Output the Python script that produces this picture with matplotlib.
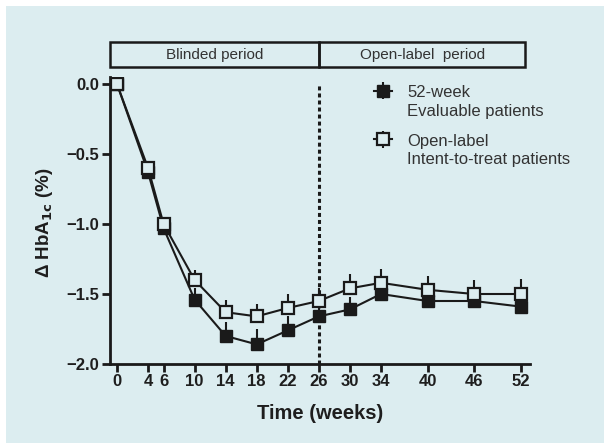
import matplotlib.pyplot as plt
from matplotlib.patches import Rectangle

plt.rcParams['font.family'] = ['Liberation Sans', 'DejaVu Sans']

weeks = [0, 4, 6, 10, 14, 18, 22, 26, 30, 34, 40, 46, 52]
evaluable = [0.0, -0.63, -1.03, -1.54, -1.80, -1.86, -1.76, -1.66, -1.61, -1.50, -1.55, -1.55, -1.59]
evaluable_err = [0.0, 0.06, 0.06, 0.08, 0.10, 0.11, 0.10, 0.09, 0.09, 0.09, 0.09, 0.09, 0.09]
itt = [0.0, -0.60, -1.00, -1.40, -1.63, -1.66, -1.60, -1.55, -1.46, -1.42, -1.47, -1.50, -1.50]
itt_err = [0.0, 0.05, 0.05, 0.07, 0.09, 0.09, 0.10, 0.09, 0.10, 0.10, 0.10, 0.10, 0.11]
yticks = [0.0, -0.5, -1.0, -1.5, -2.0]
ytick_labels = ['0.0', '\u22120.5', '\u22121.0', '\u22121.5', '\u22122.0']
periods = ['Blinded period', 'Open-label  period']

bg = '#dcedf0'
ink = '#1a1a1a'
fig = plt.figure(figsize=(6.04, 4.43), dpi=100, facecolor='white')
fig.patches.append(Rectangle((6 / 604, 0), 1, 1 - 6 / 443, transform=fig.transFigure,
                             facecolor=bg, edgecolor='none', zorder=-10))
ax = fig.add_axes([110 / 604, 79 / 443, 420 / 604, 287 / 443])
ax.set_facecolor('none')

ax.errorbar(weeks, itt, yerr=[[0] * len(itt_err), itt_err], fmt='-s', color=ink,
            mfc=bg, mec=ink, mew=1.6, ms=9, lw=1.5, elinewidth=1.5, capsize=0,
            label='Open-label\nIntent-to-treat patients', zorder=3)
ax.errorbar(weeks, evaluable, yerr=[[0] * len(evaluable_err), evaluable_err], fmt='-s',
            color=ink, mfc=ink, mec=ink, ms=9, lw=1.5, elinewidth=1.5,
            capsize=0, label='52-week\nEvaluable patients', zorder=2)

ax.plot([26, 26], [-2.0, 0.0], ls=(0, (1.3, 1.0)), color=ink, lw=2.2, zorder=1)

ax.set_xlim(-0.9, 53.2)
ax.set_ylim(-2.0, 0.05)
ax.set_xticks(weeks)
ax.set_yticks(yticks)
ax.set_yticklabels(ytick_labels)
for lab in ax.get_xticklabels() + ax.get_yticklabels():
    lab.set_fontweight('bold')
    lab.set_fontsize(12)
ax.tick_params(width=2, length=6, pad=1.5, color=ink, labelcolor='#1e1e1e')
for s in ['top', 'right']:
    ax.spines[s].set_visible(False)
for s in ['left', 'bottom']:
    ax.spines[s].set_linewidth(2)
    ax.spines[s].set_color(ink)

ax.set_xlabel('Time (weeks)', fontsize=14.5, fontweight='bold', color='#1e1e1e', va='top')
ax.xaxis.set_label_coords(0.5, -0.138)
ax.set_ylabel('\u0394 HbA$_{\\mathbf{1c}}$ (%)', fontsize=13.5, fontweight='bold',
              color='#1e1e1e', va='center')
ax.yaxis.set_label_coords(-0.155, 0.49)

# period header boxes
ax.add_patch(Rectangle((-0.9, 0.121), 26.9, 0.179, transform=ax.transData, facecolor='none',
                       edgecolor=ink, lw=1.8, clip_on=False))
ax.add_patch(Rectangle((26, 0.121), 26.5, 0.179, transform=ax.transData, facecolor='none',
                       edgecolor=ink, lw=1.8, clip_on=False))
ax.text(12.6, 0.21, periods[0], ha='center', va='center', fontsize=11, color='#333333')
ax.text(39.3, 0.21, periods[1], ha='center', va='center', fontsize=11, color='#333333')

h, l = ax.get_legend_handles_labels()
leg = fig.legend(h[::-1], l[::-1], loc='upper left', bbox_to_anchor=(374 / 604, 1 - 85 / 443),
                 frameon=False, fontsize=12, handlelength=1.1, labelspacing=0.9,
                 handletextpad=0.9, borderpad=0, borderaxespad=0)
for t in leg.get_texts():
    t.set_color('#333333')
    t.set_linespacing(1.3)
for col in leg._legend_handle_box.get_children():
    for row in col.get_children():
        row.align = 'top'

fig.savefig('out.png', dpi=100, facecolor=fig.get_facecolor())
